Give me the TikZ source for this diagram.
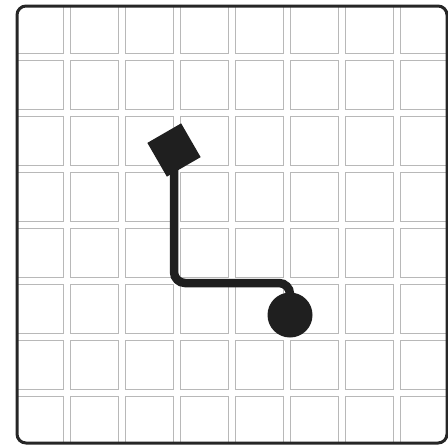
\documentclass[tikz,border=0pt]{standalone}
\usetikzlibrary{positioning}

\begin{document}
\begin{tikzpicture}[x=0.02cm, y=-0.02cm, every node/.style={draw=none, fill=black!88, inner sep=0pt}]
        \useasboundingbox (0,0) rectangle (448,444);

        % grid: gray lines first, white on top leaves the double lines
        \foreach \c/\w in {black!28/0.16cm, white/0.12cm} {
          \foreach \i in {0,...,6} {
            \draw[\c, line width=\w] ({66.5+55*\i},6) -- ({66.5+55*\i},443);
            \draw[\c, line width=\w] (17,{57+56*\i}) -- (447,{57+56*\i});
          }
        }
        \draw[black!85, line width=0.06cm, rounded corners=0.18cm] (17,6) rectangle (447,443);

        \node[rectangle, minimum size=0.78cm, rotate=30] (start) at (174,150) {};

        \node[circle, minimum size=0.9cm] (goal) at (290,315) {};

        \coordinate (turn) at (174,283);

        \draw[black!88, line width=0.17cm, rounded corners=0.22cm] (start.center) -- (turn) -- (goal.center |- turn) -- (goal.center);
      \end{tikzpicture}
\end{document}
